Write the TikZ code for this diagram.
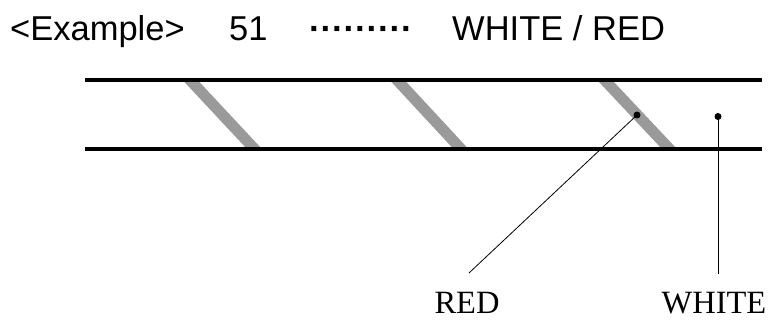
\documentclass[tikz,border=0pt]{standalone}
\usepackage{fontspec}
\setmainfont{Liberation Serif}
\newfontfamily\titlefont{Liberation Sans}
\definecolor{stripegray}{HTML}{9A9A9A}
\begin{document}
\begin{tikzpicture}[x=1pt,y=-1pt,
  titletext/.style={anchor=base west,inner sep=0pt,font=\titlefont\fontsize{34.5}{40}\selectfont},
  labeltext/.style={anchor=base,inner sep=0pt,text depth=0pt,font=\fontsize{32.5}{36}\selectfont},
  wireline/.style={line width=4pt,black},
  stripe/.style={fill=stripegray,draw=none},
  leader/.style={line width=0.9pt,black},
  dotmark/.style={circle,fill=black,inner sep=0pt,minimum size=7pt}]
\useasboundingbox (0,0) rectangle (774,320);
% title
\node[titletext] (ex) at (10,41) {<Example>};
\node[titletext] (num) at (229,41) {51};
\node[titletext] (dots) at (309,41) {\bfseries ·········};
\node[titletext] (col) at (452,41) {WHITE / RED};
% stripes
\foreach \t/\b in {190.5/254.5, 397.5/461, 605/669.5}{
  \fill[stripe] (\t-7.5,80.5) -- (\t+7.5,80.5) -- (\b+7.5,149) -- (\b-7.5,149) -- cycle;
}
% wires
\coordinate (tl) at (85,80.5);
\coordinate (tr) at (762,80.5);
\coordinate (bl) at (85,149);
\coordinate (br) at (762,149);
\draw[wireline] (tl) -- (tr);
\draw[wireline] (bl) -- (br);
% dots and leaders
\node[dotmark] (reddot) at (637,115) {};
\node[dotmark] (whitedot) at (718,116.5) {};
\coordinate (redend) at (469,273);
\coordinate (whiteend) at (718,274);
\draw[leader,line width=0.8pt] (reddot.center) -- (redend);
\draw[leader] (whitedot.center) -- (whiteend);
% labels
\node[labeltext] (red) at (467,314) {RED};
\node[labeltext] (white) at (714,314) {WHITE};
\end{tikzpicture}
\end{document}
